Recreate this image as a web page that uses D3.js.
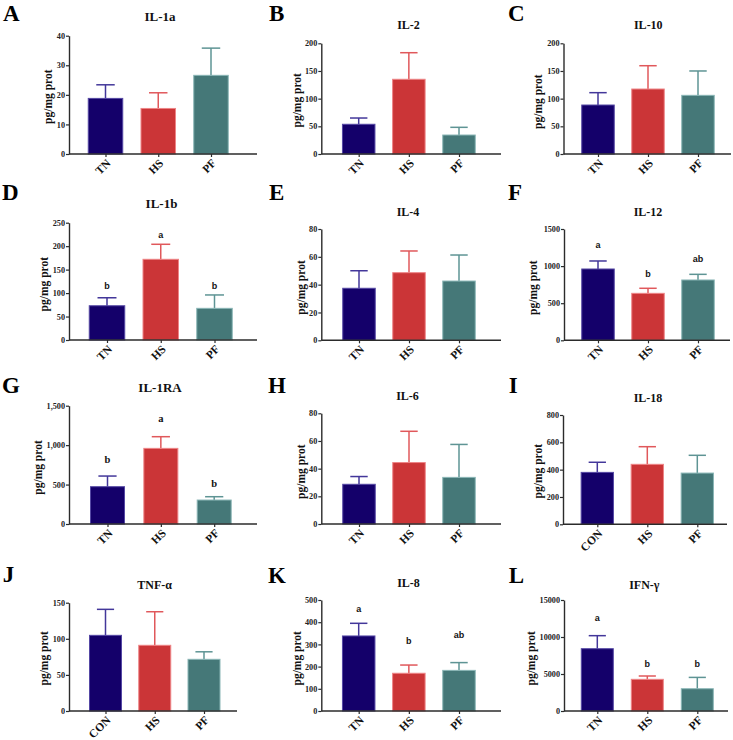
<!DOCTYPE html>
<html><head><meta charset="utf-8">
<script src="https://cdn.jsdelivr.net/npm/d3@7"></script>
<style>
html,body{margin:0;padding:0;background:#fff;}
svg{display:block;}
</style>
</head><body>
<svg id="chart" width="733" height="740"></svg>
<script>
// ---------- DATA ----------
const catsTN = ["TN", "HS", "PF"];
const catsCON = ["CON", "HS", "PF"];
const panelLetters = ["A","B","C","D","E","F","G","H","I","J","K","L"];
const panelTitles = ["IL-1a","IL-2","IL-10","IL-1b","IL-4","IL-12","IL-1RA","IL-6","IL-18","TNF-α","IL-8","IFN-γ"];

const il1aMean = [18.8, 15.4, 26.6],   il1aErr = [4.6, 5.3, 9.2];
const il2Mean  = [53.7, 135, 34.3],    il2Err  = [11.3, 48, 13.9];
const il10Mean = [88.5, 117.4, 106],   il10Err = [22.3, 42.1, 44];
const il1bMean = [73, 172, 67.5],      il1bErr = [17, 32, 28.5];
const il4Mean  = [37.4, 48.6, 42.6],   il4Err  = [12.6, 15.6, 18.7];
const il12Mean = [961, 633, 813],      il12Err = [108, 68, 76];
const il1raMean = [473, 959, 304],     il1raErr = [135, 148, 42];
const il6Mean  = [28.7, 44.4, 33.7],   il6Err  = [5.6, 22.6, 23.8];
const il18Mean = [380, 439, 375],      il18Err = [74, 129, 130];
const tnfMean  = [104.8, 91, 71.6],    tnfErr  = [36, 46.5, 10.4];
const il8Mean  = [338, 170, 183],      il8Err  = [57, 37, 35];
const ifnMean  = [8420, 4280, 3010],   ifnErr  = [1760, 450, 1530];

const yMax = [40, 200, 200, 250, 80, 1500, 1500, 80, 800, 150, 500, 15000];
const yTickStep = [10, 50, 50, 50, 20, 500, 500, 20, 200, 50, 100, 5000];

// significance letters and the value level at which each letter sits
const sigIl1b = ["b","a","b"],  sigIl1bAt = [108, 217, 108];
const sigIl12 = ["a","b","ab"], sigIl12At = [1248, 857, 1051];
const sigIl1ra = ["b","a","b"], sigIl1raAt = [769, 1297, 473];
const sigIl8 = ["a","b","ab"],  sigIl8At = [447, 303, 329];
const sigIfn = ["a","b","b"],   sigIfnAt = [12160, 5900, 5900];

const groupFill = ["#14006a", "#cb3537", "#457878"];
const groupEdge = ["#5548a4", "#ee8486", "#8ab6b6"];
const groupErr  = ["#43379a", "#e0585b", "#5e9494"];

// ---------- ASSEMBLY ----------
const means = [il1aMean, il2Mean, il10Mean, il1bMean, il4Mean, il12Mean, il1raMean, il6Mean, il18Mean, tnfMean, il8Mean, ifnMean];
const errs  = [il1aErr, il2Err, il10Err, il1bErr, il4Err, il12Err, il1raErr, il6Err, il18Err, tnfErr, il8Err, ifnErr];
const cats  = [catsTN, catsTN, catsTN, catsTN, catsTN, catsTN, catsTN, catsTN, catsCON, catsCON, catsTN, catsTN];
const sigs  = {3: [sigIl1b, sigIl1bAt, "sans"], 5: [sigIl12, sigIl12At, "sans"], 6: [sigIl1ra, sigIl1raAt, "serif"],
               10: [sigIl8, sigIl8At, "sans"], 11: [sigIfn, sigIfnAt, "sans"]};

// layout (pixels)
const L = [
 {ax:69,   top:35.7, bot:154,   xEnd:257, c0:105.5, c2:211,   bw:35.5, tx:160,   ty:20.7,  ts:13, lx:3,   ly:20.5, ylx:49,   yly:96.7},
 {ax:321.3,top:43.3, bot:154,   xEnd:501, c0:358.7, c2:459,   bw:33.5, tx:408.5, ty:29.3,  ts:12, lx:269, ly:20.5, ylx:298.7,yly:100.3},
 {ax:563.5,top:43.3, bot:154,   xEnd:731, c0:598,   c2:698,   bw:33.5, tx:648.3, ty:29.3,  ts:12, lx:508, ly:20.5, ylx:538.7,yly:101.7},
 {ax:69,   top:222.7,bot:340,   xEnd:257, c0:107,   c2:214.5, bw:36.5, tx:161.5, ty:207.7, ts:13, lx:2,   ly:200,  ylx:45.8, yly:284.2},
 {ax:321.3,top:229,  bot:340.3, xEnd:501, c0:359,   c2:459,   bw:33.5, tx:408,   ty:215.7, ts:12, lx:269, ly:200,  ylx:302.8,yly:287.5},
 {ax:564,  top:229,  bot:340.3, xEnd:730, c0:598,   c2:698,   bw:33.5, tx:648,   ty:215.7, ts:12, lx:508, ly:200,  ylx:533.8,yly:287.7},
 {ax:69,   top:405.7,bot:524,   xEnd:257, c0:107.5, c2:214.2, bw:35,   tx:160,   ty:391.7, ts:13, lx:2,   ly:392.7,ylx:43.3, yly:467.5},
 {ax:321.3,top:413.3,bot:524,   xEnd:501, c0:359,   c2:459,   bw:33.5, tx:407.5, ty:400,   ts:12, lx:268, ly:392.7,ylx:304.8,yly:471.7},
 {ax:563,  top:415,  bot:524.3, xEnd:727, c0:597.3, c2:697.3, bw:33.3, tx:648,   ty:402.3, ts:12, lx:508.7,ly:392.7,ylx:541,  yly:471.2},
 {ax:69,   top:602.7,bot:711,   xEnd:237, c0:105.5, c2:204,   bw:33,   tx:154.7, ty:589.3, ts:12, lx:2.7, ly:581.7,ylx:47.5, yly:658.3},
 {ax:321.3,top:600,  bot:711,   xEnd:501, c0:358.7, c2:459,   bw:33.5, tx:408.5, ty:586.7, ts:12, lx:268, ly:583.3,ylx:301,  yly:658.3},
 {ax:564,  top:600,  bot:711,   xEnd:728, c0:597.3, c2:697.3, bw:33,   tx:644.3, ty:589,   ts:12, lx:508.7,ly:583.3,ylx:533,  yly:658.3}
];

const SERIF = "'Liberation Serif','Times New Roman',Times,serif";
const SANS = "'Liberation Sans',Arial,Helvetica,sans-serif";
const AXC = "#2b2b2b";

const svg = d3.select("#chart");

panelLetters.forEach((letter, i) => {
  const g = svg.append("g");
  const lay = L[i];
  const y = d3.scaleLinear().domain([0, yMax[i]]).range([lay.bot, lay.top]);
  const x = d3.scalePoint().domain(cats[i]).range([lay.c0, lay.c2]);
  const data = cats[i].map((c, k) => ({c, k, m: means[i][k], e: errs[i][k]}));

  // panel letter
  g.append("text").attr("x", lay.lx).attr("y", lay.ly)
    .attr("font-family", SERIF).attr("font-weight", "bold").attr("font-size", 23)
    .attr("fill", "#000").text(letter);
  // title
  g.append("text").attr("x", lay.tx).attr("y", lay.ty).attr("text-anchor", "middle")
    .attr("font-family", SERIF).attr("font-weight", "bold").attr("font-size", lay.ts)
    .attr("fill", "#111").text(panelTitles[i]);

  // error bars (above only)
  const cap = lay.bw * 0.52;
  const eb = g.append("g");
  data.forEach(d => {
    const yt = y(d.m + d.e);
    eb.append("line").attr("x1", x(d.c)).attr("x2", x(d.c)).attr("y1", y(d.m)).attr("y2", yt)
      .attr("stroke", groupErr[d.k]).attr("stroke-width", 1.5);
    eb.append("line").attr("x1", x(d.c) - cap / 2).attr("x2", x(d.c) + cap / 2).attr("y1", yt).attr("y2", yt)
      .attr("stroke", groupErr[d.k]).attr("stroke-width", 1.5);
  });

  // bars
  g.append("g").selectAll("rect").data(data).join("rect")
    .attr("x", d => x(d.c) - lay.bw / 2 + 0.5)
    .attr("width", lay.bw - 1)
    .attr("y", d => y(d.m))
    .attr("height", d => y(0) - y(d.m))
    .attr("fill", d => groupFill[d.k])
    .attr("stroke", d => groupEdge[d.k]).attr("stroke-width", 1);

  // y axis
  const fmt = (i === 6) ? d3.format(",") : d3.format("d");
  const yAx = g.append("g").attr("transform", `translate(${lay.ax},0)`)
    .call(d3.axisLeft(y).tickValues(d3.range(0, yMax[i] + 1e-9, yTickStep[i]))
      .tickFormat(fmt).tickSize(3).tickSizeOuter(0).tickPadding(1));
  yAx.select(".domain").attr("stroke", AXC).attr("stroke-width", 1.4);
  yAx.selectAll(".tick line").attr("stroke", AXC).attr("stroke-width", 1.2);
  yAx.selectAll(".tick text").attr("font-family", SERIF).attr("font-weight", "bold")
    .attr("font-size", 8.2).attr("fill", "#222");

  // x axis
  const xAx = g.append("g").attr("transform", `translate(0,${lay.bot})`)
    .call(d3.axisBottom(x).tickSize(3).tickSizeOuter(0).tickFormat(""));
  xAx.select(".domain").remove();
  xAx.selectAll(".tick line").attr("stroke", AXC).attr("stroke-width", 1.2);
  g.append("line").attr("x1", lay.ax).attr("x2", lay.xEnd).attr("y1", lay.bot).attr("y2", lay.bot)
    .attr("stroke", AXC).attr("stroke-width", 1.4);
  g.append("g").selectAll("text").data(data).join("text")
    .attr("transform", d => `translate(${x(d.c) + 3},${lay.bot + 7}) rotate(-45)`)
    .attr("text-anchor", "end").attr("dy", "0.35em")
    .attr("font-family", SERIF).attr("font-weight", "bold").attr("font-size", 11.5)
    .attr("fill", "#111").text(d => d.c);

  // y label (kept clear of the tick labels)
  const yl = g.append("text").attr("transform", `translate(${lay.ylx},${lay.yly}) rotate(-90)`)
    .attr("text-anchor", "middle").attr("dy", "0.3em")
    .attr("font-family", SERIF).attr("font-weight", "bold").attr("font-size", 11.5)
    .attr("fill", "#111").text("pg/mg prot");
  let tickLeft = Infinity;
  yAx.selectAll(".tick text").each(function() {
    tickLeft = Math.min(tickLeft, this.getBoundingClientRect().left);
  });
  const ylr = yl.node().getBoundingClientRect();
  if (ylr.right > tickLeft - 1.5) {
    const sh = ylr.right - (tickLeft - 1.5);
    yl.attr("transform", `translate(${lay.ylx - sh},${lay.yly}) rotate(-90)`);
  }

  // significance letters
  if (sigs[i]) {
    const [labs, at, fam] = sigs[i];
    g.append("g").selectAll("text").data(data).join("text")
      .attr("x", d => x(d.c)).attr("y", d => y(at[d.k]))
      .attr("text-anchor", "middle")
      .attr("font-family", fam === "sans" ? SANS : SERIF).attr("font-weight", "bold")
      .attr("font-size", fam === "sans" ? 9 : 10.5)
      .attr("fill", "#111").text(d => labs[d.k]);
  }
});
</script>
</body></html>
